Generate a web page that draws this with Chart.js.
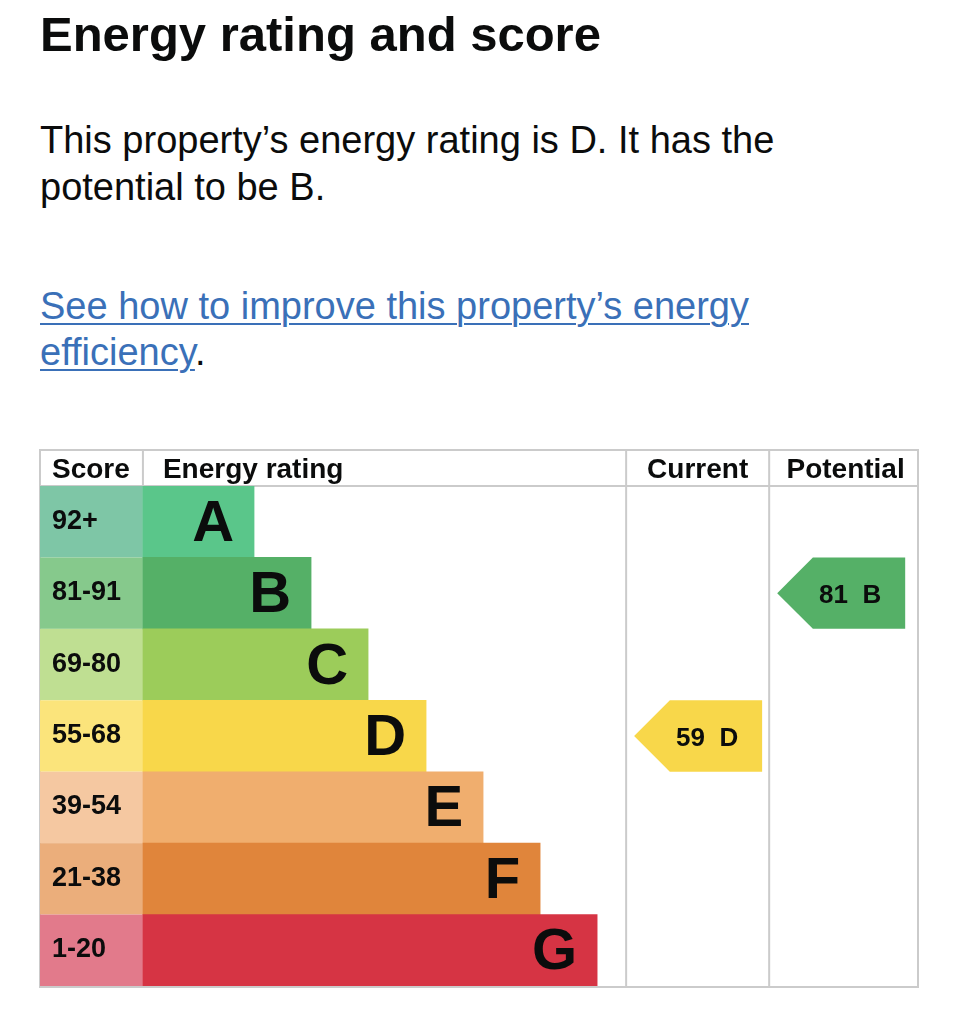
<!DOCTYPE html>
<html>
<head>
<meta charset="utf-8">
<script src="https://cdn.jsdelivr.net/npm/chart.js@4.4.1/dist/chart.umd.min.js"></script>
<style>
  html, body { margin: 0; padding: 0; background: #ffffff; }
  body { width: 966px; height: 1024px; position: relative; overflow: hidden;
         font-family: "Liberation Sans", Arial, Helvetica, sans-serif; color: #0b0c0c; }
  .title { position: absolute; left: 40px; top: 6px; margin: 0; font-size: 49px; line-height: 56px; font-weight: bold; white-space: nowrap; }
  .para { position: absolute; left: 40px; top: 117px; margin: 0; font-size: 38px; line-height: 47px; width: 850px; }
  .linkp { position: absolute; left: 40px; top: 283px; margin: 0; font-size: 38px; line-height: 46px; width: 850px; }
  .linkp a { color: #3a70b8; text-decoration: underline; text-decoration-thickness: 2px; text-underline-offset: 4px; }
  #wrap { position: absolute; left: 38px; top: 448px; width: 882px; height: 540px; }
</style>
</head>
<body>
<h2 class="title">Energy rating and score</h2>
<p class="para">This property’s energy rating is D. It has the<br>potential to be B.</p>
<p class="linkp"><a href="#">See how to improve this property’s energy<br>efficiency</a>.</p>
<div id="wrap"><canvas id="epc" width="882" height="540"></canvas></div>
<script>
// ---- data ----
const ratings = ['A', 'B', 'C', 'D', 'E', 'F', 'G'];
const scoreBands = ['92+', '81-91', '69-80', '55-68', '39-54', '21-38', '1-20'];
const barLengths = [23.0, 34.8, 46.6, 58.6, 70.4, 82.2, 94.0]; // % of rating column
const barColors = ['#5ac68a', '#55b067', '#9ccc5a', '#f8d74a', '#f0ae6e', '#e0853b', '#d63444'];
const bandColors = ['#7ec6a6', '#86c98c', '#bfdf92', '#fbe47b', '#f5c8a1', '#ebae7b', '#e27a8b'];
const headers = ['Score', 'Energy rating', 'Current', 'Potential'];
const currentScore = 59, currentRating = 'D';
const potentialScore = 81, potentialRating = 'B';

// column boundaries in x-scale units (rating column spans 0..100)
const X_MIN = -21.3, CUR_START = 100, POT_START = 129.6, X_MAX = 160.4;

const FONT = '"Liberation Sans", Arial, Helvetica, sans-serif';
const INK = '#0b0c0c';
const LINE = '#cbcbcb';

const tablePlugin = {
  id: 'epcTable',
  beforeDatasetsDraw(chart) {
    const { ctx, chartArea: ca, scales: { x, y } } = chart;
    const top = ca.top - 36;
    const xScore = x.getPixelForValue(0);
    const xCur = x.getPixelForValue(CUR_START);
    const xPot = x.getPixelForValue(POT_START);
    ctx.save();
    ctx.strokeStyle = LINE;
    ctx.lineWidth = 2;
    ctx.beginPath();
    ctx.moveTo(ca.left - 1, top); ctx.lineTo(ca.right + 1, top);
    ctx.moveTo(ca.left - 1, ca.top); ctx.lineTo(ca.right + 1, ca.top);
    ctx.moveTo(ca.left - 1, ca.bottom + 1); ctx.lineTo(ca.right + 1, ca.bottom + 1);
    ctx.moveTo(ca.left, top); ctx.lineTo(ca.left, ca.bottom + 1);
    ctx.moveTo(ca.right, top); ctx.lineTo(ca.right, ca.bottom + 1);
    ctx.moveTo(xScore, top); ctx.lineTo(xScore, ca.top);
    ctx.moveTo(xCur, top); ctx.lineTo(xCur, ca.bottom + 1);
    ctx.moveTo(xPot, top); ctx.lineTo(xPot, ca.bottom + 1);
    ctx.stroke();

    ctx.fillStyle = INK;
    ctx.font = 'bold 28px ' + FONT;
    ctx.textBaseline = 'alphabetic';
    const hb = top + 28;
    ctx.textAlign = 'left';
    ctx.fillText(headers[0], ca.left + 12, hb);
    ctx.fillText(headers[1], xScore + 20, hb);
    ctx.textAlign = 'center';
    ctx.fillText(headers[2], (xCur + xPot) / 2, hb);
    ctx.fillText(headers[3], (xPot + ca.right) / 2 + 2, hb);

    const rowH = (ca.bottom - ca.top) / ratings.length;
    ratings.forEach((r, i) => {
      const yc = y.getPixelForValue(i);
      ctx.fillStyle = bandColors[i];
      ctx.fillRect(ca.left, yc - rowH / 2, xScore - ca.left, rowH);
      ctx.fillStyle = INK;
      ctx.textAlign = 'left';
      ctx.font = 'bold 27px ' + FONT;
      ctx.fillText(scoreBands[i], ca.left + 12, yc + 7);
    });
    ctx.restore();
  },
  afterDatasetsDraw(chart) {
    const { ctx, chartArea: ca, scales: { x, y } } = chart;
    const meta = chart.getDatasetMeta(0);
    ctx.save();
    ctx.fillStyle = INK;
    ctx.font = 'bold 58px ' + FONT;
    ctx.textAlign = 'right';
    ctx.textBaseline = 'alphabetic';
    meta.data.forEach((bar, i) => {
      ctx.fillText(ratings[i], bar.x - 20, bar.y + 19);
    });

    const rowH = (ca.bottom - ca.top) / ratings.length;
    const drawArrow = (colStartVal, score, rating) => {
      const idx = ratings.indexOf(rating);
      const yc = y.getPixelForValue(idx);
      const left = x.getPixelForValue(colStartVal) + 8;
      const right = left + 128;
      const half = rowH / 2;
      ctx.fillStyle = barColors[idx];
      ctx.beginPath();
      ctx.moveTo(left, yc);
      ctx.lineTo(left + half, yc - half);
      ctx.lineTo(right, yc - half);
      ctx.lineTo(right, yc + half);
      ctx.lineTo(left + half, yc + half);
      ctx.closePath();
      ctx.fill();
      ctx.fillStyle = INK;
      ctx.font = 'bold 26px ' + FONT;
      ctx.textAlign = 'center';
      ctx.fillText(score + '  ' + rating, (left + right) / 2 + 9, yc + 9.5);
    };
    drawArrow(CUR_START, currentScore, currentRating);
    drawArrow(POT_START, potentialScore, potentialRating);
    ctx.restore();
  }
};

new Chart(document.getElementById('epc'), {
  type: 'bar',
  data: {
    labels: ratings,
    datasets: [{
      label: 'Energy rating',
      data: barLengths,
      backgroundColor: barColors,
      borderWidth: 0,
      barPercentage: 1,
      categoryPercentage: 1
    }]
  },
  options: {
    indexAxis: 'y',
    responsive: false,
    devicePixelRatio: 1,
    animation: false,
    layout: { padding: { left: 2, right: 2, top: 38, bottom: 2 } },
    plugins: { legend: { display: false }, tooltip: { enabled: false } },
    scales: {
      x: { type: 'linear', min: X_MIN, max: X_MAX, display: false },
      y: { type: 'category', display: false, offset: true }
    }
  },
  plugins: [tablePlugin]
});
</script>
</body>
</html>
